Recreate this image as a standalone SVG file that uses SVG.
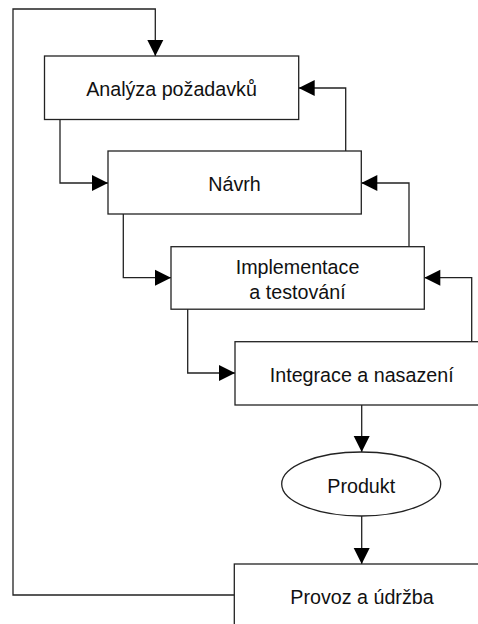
<svg xmlns="http://www.w3.org/2000/svg" width="478" height="624" viewBox="0 0 478 624">
  <style>
    .box { fill: #ffffff; stroke: #222222; stroke-width: 1.3; }
    .lbl { font-family: "Liberation Sans", Arial, sans-serif; font-size: 19.7px; fill: #111111; text-anchor: middle; }
    .wire { fill: none; stroke: #222222; stroke-width: 1.3; marker-end: url(#head); }
  </style>
  <defs>
    <marker id="head" markerUnits="userSpaceOnUse" markerWidth="16" markerHeight="16" refX="16" refY="8" orient="auto" overflow="visible">
      <path d="M0,0 L16,8 L0,16 Z" fill="#000000"/>
    </marker>
  </defs>
  <rect width="478" height="624" fill="#ffffff"/>

  <!-- connectors -->
  <g id="connectors">
    <!-- forward flow -->
    <path class="wire" d="M60,119.5 V183 H108"/>
    <path class="wire" d="M123.3,214 V277.7 H171"/>
    <path class="wire" d="M187.7,309 V373 H235"/>
    <path class="wire" d="M361.7,405 V452"/>
    <path class="wire" d="M361.7,516 V564"/>
    <!-- feedback -->
    <path class="wire" d="M345.7,151 V88 H298.7"/>
    <path class="wire" d="M409,246.7 V183 H361.3"/>
    <path class="wire" d="M471.7,341.7 V277.7 H424.3"/>
    <path class="wire" d="M234.3,595 H13 V9 H155.3 V56"/>
  </g>

  <g id="analyza">
    <rect class="box" x="44.5" y="56" width="254.2" height="63.5"/>
    <text class="lbl" x="171.5" y="96">Analýza požadavků</text>
  </g>

  <g id="navrh">
    <rect class="box" x="108" y="151" width="253.3" height="63"/>
    <text class="lbl" x="234.5" y="191">Návrh</text>
  </g>

  <g id="implementace">
    <rect class="box" x="171" y="246.7" width="253.3" height="62.5"/>
    <text class="lbl" x="297.5" y="273.5">Implementace</text>
    <text class="lbl" x="297.5" y="298.5">a testování</text>
  </g>

  <g id="integrace">
    <rect class="box" x="235" y="341.7" width="260" height="63.3"/>
    <text class="lbl" x="361.7" y="381.5">Integrace a nasazení</text>
  </g>

  <g id="produkt">
    <ellipse class="box" cx="361.2" cy="484" rx="79.5" ry="32"/>
    <text class="lbl" x="361.2" y="493">Produkt</text>
  </g>

  <g id="provoz">
    <rect class="box" x="234.3" y="564" width="260" height="80"/>
    <text class="lbl" x="362" y="603.5">Provoz a údržba</text>
  </g>
</svg>
